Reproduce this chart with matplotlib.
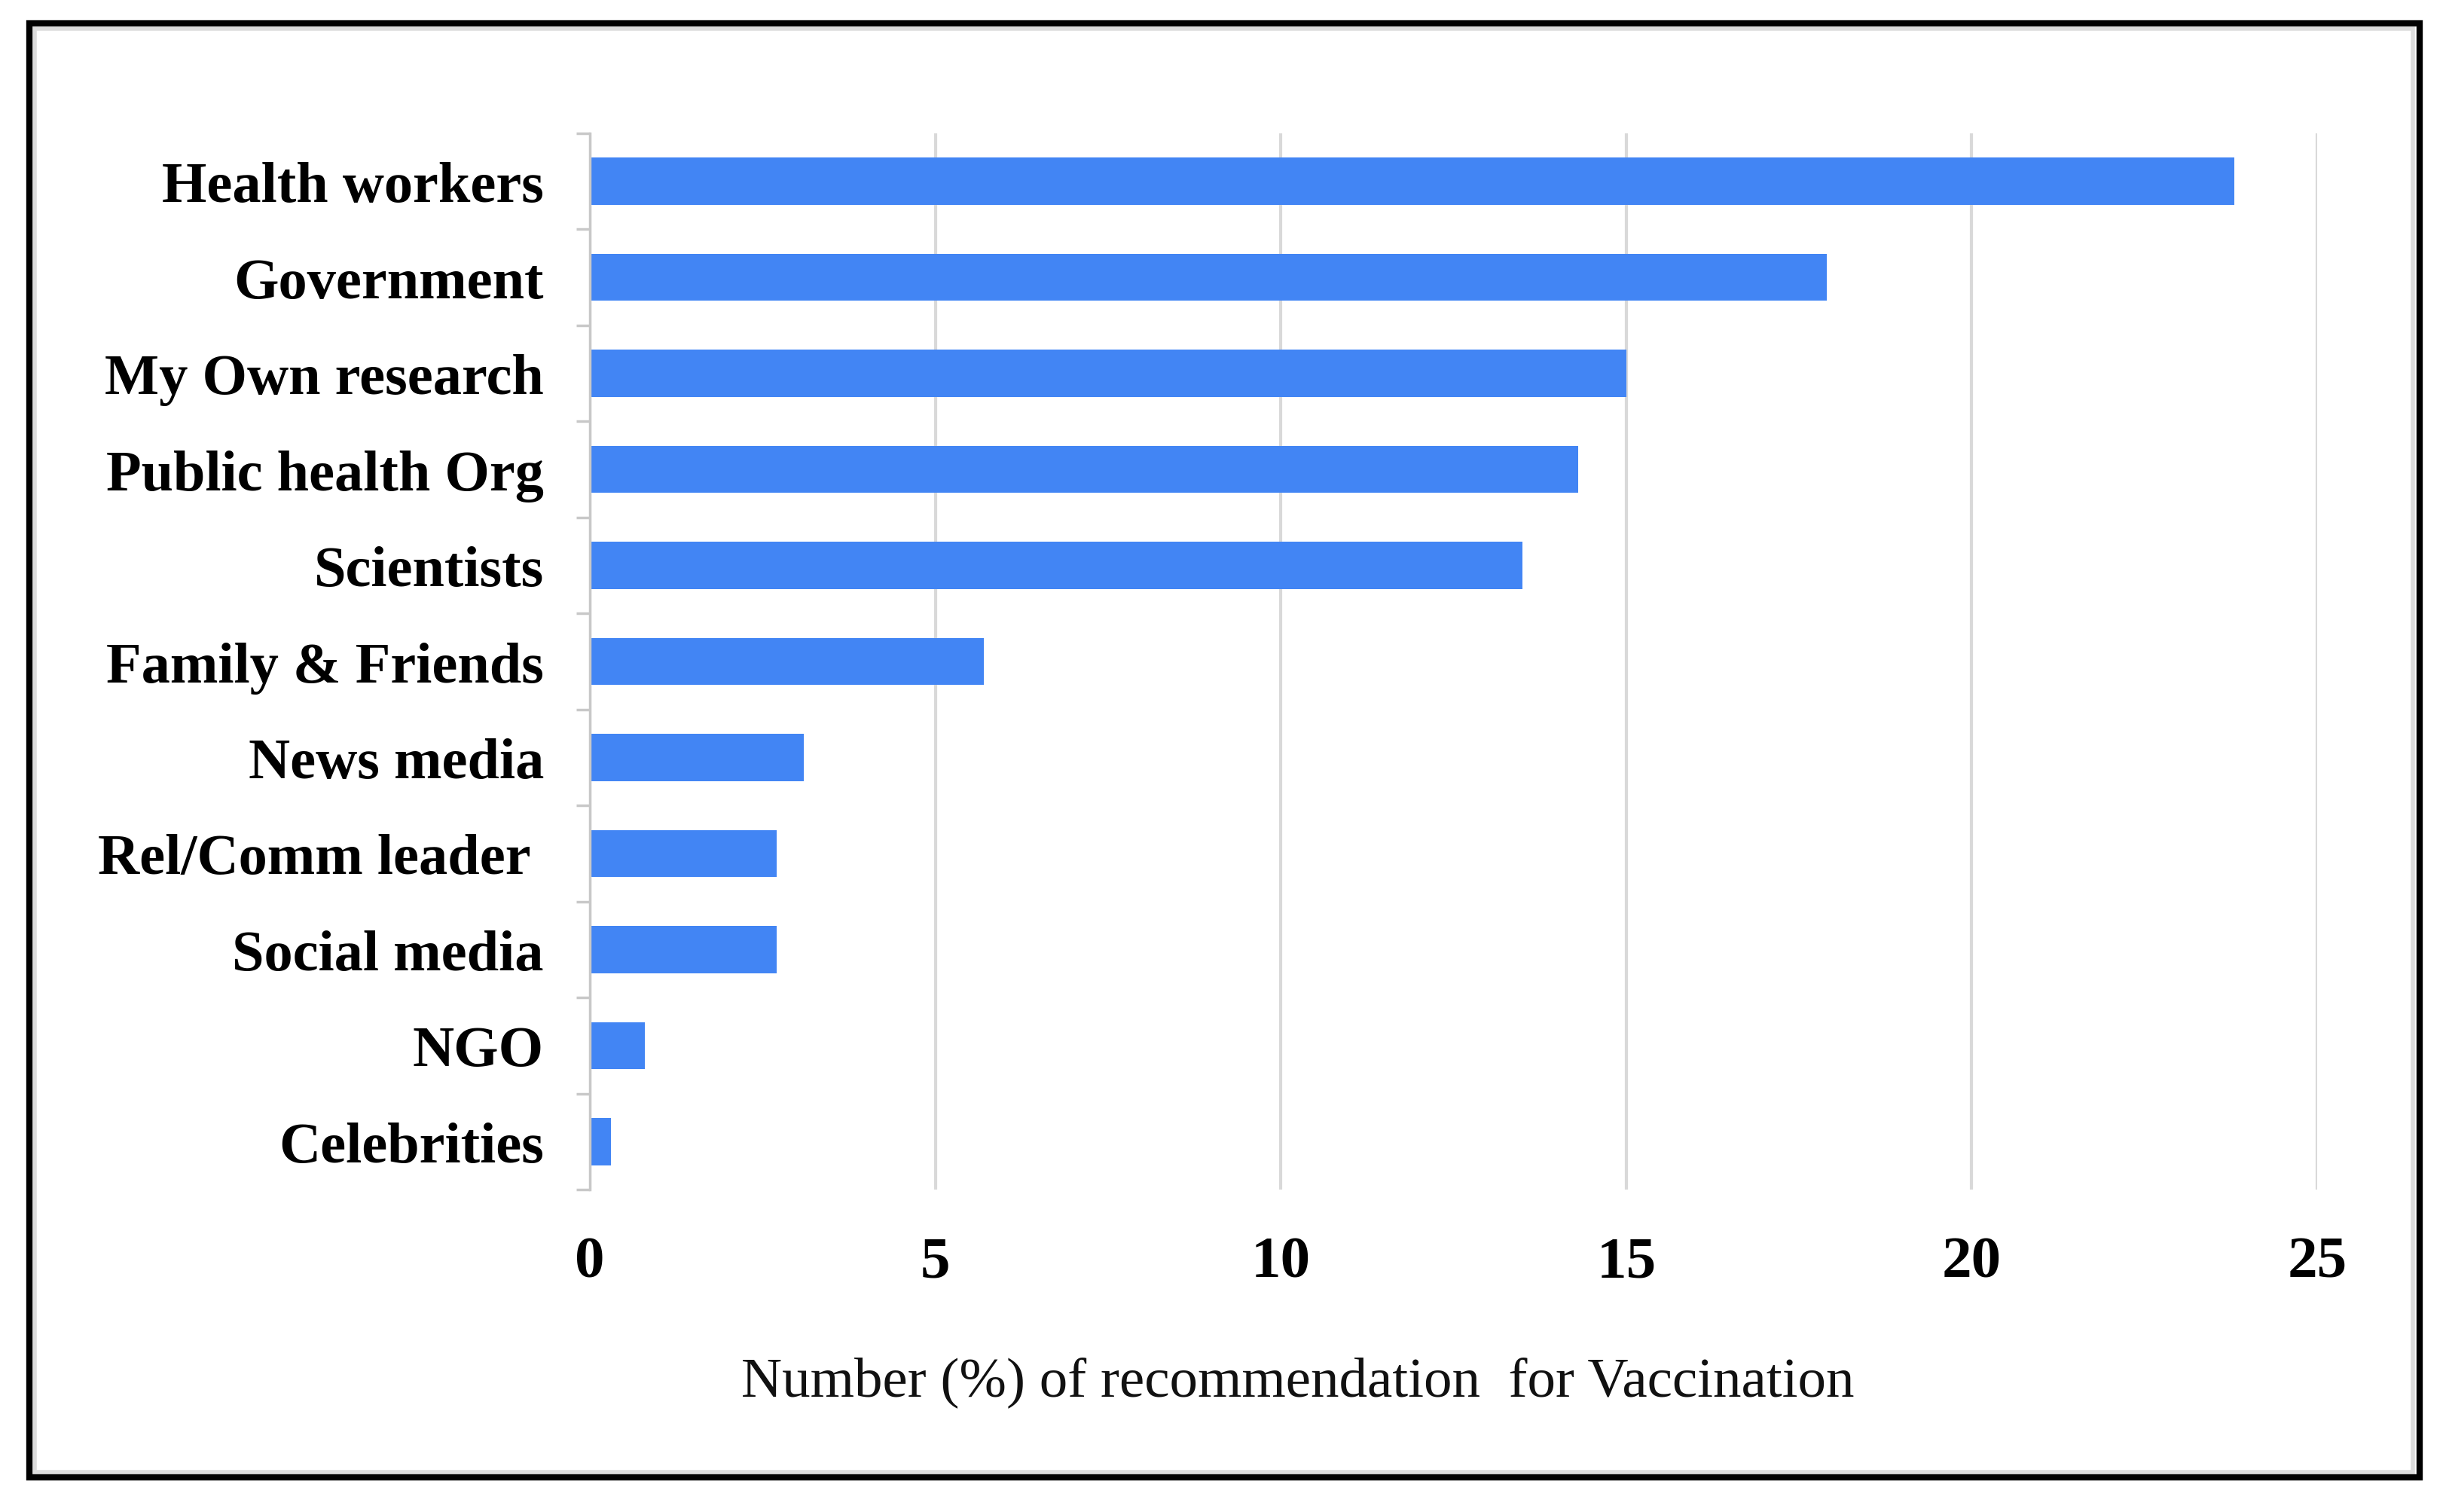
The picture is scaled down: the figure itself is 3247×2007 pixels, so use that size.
import matplotlib.pyplot as plt
from matplotlib.patches import Rectangle
import numpy as np

# data
sources = ["Health workers", "Government", "My Own research", "Public health Org",
           "Scientists", "Family & Friends", "News media", "Rel/Comm leader ",
           "Social media", "NGO", "Celebrities"]
percent = [23.8, 17.9, 15.0, 14.3, 13.5, 5.7, 3.1, 2.7, 2.7, 0.8, 0.3]
xticks = [0, 5, 10, 15, 20, 25]
xlabel = "Number (%) of recommendation  for Vaccination"

barColor = '#4285F4'
gridColor = '#d9d9d9'
serif = 'Liberation Serif'

fig = plt.figure(figsize=(32.48, 20.08), dpi=100)
ax = fig.add_axes([0.2411, 0.2131, 0.9470 - 0.2411, 0.9114 - 0.2131])

ypos = np.arange(len(sources))
ax.barh(ypos, percent, height=0.49, color=barColor, zorder=3)

ax.set_xlim(0, 25)
ax.set_ylim(len(sources) - 0.5, -0.5)

ax.set_xticks(xticks)
ax.set_xticklabels([str(t) for t in xticks], fontfamily=serif, fontweight='bold', fontsize=57)
ax.set_yticks(ypos)
ax.set_yticklabels(sources, fontfamily=serif, fontweight='bold', fontsize=55)
ax.set_yticks(np.arange(len(sources) + 1) - 0.5, minor=True)

ax.tick_params(axis='x', length=0, pad=44)
ax.tick_params(axis='y', which='major', length=0, pad=44)
ax.tick_params(axis='y', which='minor', length=13, width=2.5, color='#c8c8c8')

ax.grid(axis='x', color=gridColor, linewidth=3, zorder=0)
ax.grid(axis='y', visible=False)

for side in ['top', 'right', 'bottom']:
    ax.spines[side].set_visible(False)
ax.spines['left'].set_color('#c8c8c8')
ax.spines['left'].set_linewidth(2.5)
ax.spines['left'].set_zorder(4)

fig.text(0.5305, 0.0862, xlabel, fontfamily=serif, fontsize=54,
         ha='center', va='center', color='#111111')

# outer frame with a soft grey inner edge
fig.add_artist(Rectangle((46 / 3248, 1 - 1955 / 2008), (3203 - 46) / 3248, (1955 - 39) / 2008,
                         transform=fig.transFigure, fill=False, edgecolor='#dcdcdc', linewidth=4))
fig.add_artist(Rectangle((39 / 3248, 1 - 1962 / 2008), (3212 - 39) / 3248, (1962 - 32) / 2008,
                         transform=fig.transFigure, fill=False, edgecolor='black', linewidth=6))

plt.savefig("out.png", dpi=100)
